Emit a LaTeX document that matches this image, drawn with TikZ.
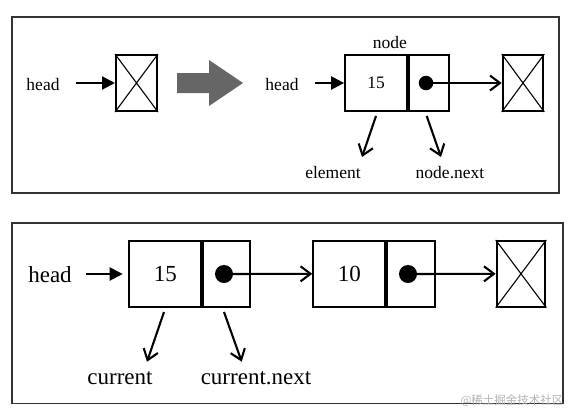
\documentclass[tikz,border=0pt]{standalone}
\usepackage{fontspec}
\setmainfont{Liberation Serif}
\newfontfamily\cjkfont{Noto Sans CJK SC}
\usetikzlibrary{arrows.meta}
\tikzset{
  frame/.style={draw=black!80, line width=1.6pt},
  cell/.style={draw, line width=2pt, rectangle, inner sep=0pt},
  nullbox/.style={draw, line width=2pt, rectangle, inner sep=0pt},
  diag/.style={line width=1.1pt},
  ptrdot/.style={fill=black, circle, inner sep=0pt},
  headarrow/.style={line width=2.2pt, -{Triangle[length=13pt,width=13pt]}},
  openarrow/.style={line width=2.1pt, -{Straight Barb[length=10pt,width=15pt,line width=2.1pt]}},
  smalltxt/.style={font=\fontsize{17.5}{19}\selectfont, inner sep=0pt},
  bigtxt/.style={font=\fontsize{23}{25}\selectfont, inner sep=0pt},
}
\begin{document}
\begin{tikzpicture}[x=1pt,y=-1pt]
\useasboundingbox (0,0) rectangle (572,413);
% ---------- top panel ----------
\draw[frame] (12,17) rectangle (559,193);
\node[smalltxt] (headA) at (43,85) {head};
\node[nullbox, minimum width=41pt, minimum height=56pt] (nullA) at (136.5,83) {};
\draw[diag] (nullA.north west) -- (nullA.south east) (nullA.north east) -- (nullA.south west);
\coordinate (hA1) at (76,83);
\draw[headarrow] (hA1) -- (nullA.west);
\fill[black!60] (177,73) -- (209,73) -- (209,60) -- (243,83) -- (209,106) -- (209,93) -- (177,93) -- cycle;
\node[smalltxt] (headB) at (282,85) {head};
\node[cell, minimum width=61.7pt, minimum height=56pt] (valB) at (376,83) {};
\node[smalltxt] at (valB.center) {15};
\node[cell, minimum width=40.6pt, minimum height=56pt, anchor=west] (ptrB) at (valB.east) {};
\node[smalltxt] (nodelbl) at (390,43) {node};
\node[ptrdot, minimum size=14.5pt] (dotB) at (426,83) {};
\node[nullbox, minimum width=40.6pt, minimum height=56pt] (nullB) at (523,83) {};
\draw[diag] (nullB.north west) -- (nullB.south east) (nullB.north east) -- (nullB.south west);
\coordinate (hB1) at (315,83);
\draw[headarrow] (hB1) -- (valB.west);
\draw[openarrow] (dotB.center) -- (nullB.west);
\node[smalltxt] (elem) at (333,173) {element};
\node[smalltxt] (nnext) at (450,173) {node.next};
\coordinate (eS) at (376,116);
\coordinate (eT) at (362,157);
\coordinate (nS) at (426.7,116);
\coordinate (nT) at (441,157);
\draw[openarrow] (eS) -- (eT);
\draw[openarrow] (nS) -- (nT);
% ---------- bottom panel ----------
\draw[frame] (12,222.7) rectangle (562.7,403.3);
\node[bigtxt] (headC) at (50,275) {head};
\node[cell, minimum width=72pt, minimum height=65.7pt] (val1) at (165.3,273.8) {};
\node[bigtxt] at (val1.center) {15};
\node[cell, minimum width=47pt, minimum height=65.7pt, anchor=west] (ptr1) at (val1.east) {};
\node[ptrdot, minimum size=18pt] (dot1) at (224,274) {};
\node[cell, minimum width=72pt, minimum height=65.7pt] (val2) at (349.3,273.8) {};
\node[bigtxt] at (val2.center) {10};
\node[cell, minimum width=47.4pt, minimum height=65.7pt, anchor=west] (ptr2) at (val2.east) {};
\node[ptrdot, minimum size=18pt] (dot2) at (408,274) {};
\node[nullbox, minimum width=48.6pt, minimum height=65.7pt] (null3) at (521,273.8) {};
\draw[diag] (null3.north west) -- (null3.south east) (null3.north east) -- (null3.south west);
\coordinate (hC1) at (86,274);
\coordinate (hC2) at (122.7,274);
\draw[headarrow] (hC1) -- (hC2);
\draw[openarrow] (dot1.center) -- (val2.west);
\draw[openarrow] (dot2.center) -- (null3.west);
\node[bigtxt] (cur) at (120,378) {current};
\node[bigtxt] (curn) at (256,378) {current.next};
\coordinate (cS) at (164,312);
\coordinate (cT) at (147,361.7);
\coordinate (dS) at (224,312);
\coordinate (dT) at (241.7,361.7);
\draw[openarrow] (cS) -- (cT);
\draw[openarrow] (dS) -- (dT);
\node[font=\cjkfont\fontsize{11.5}{12}\selectfont, text=black!30, inner sep=0pt] (wm) at (512,401) {@稀土掘金技术社区};
\end{tikzpicture}
\end{document}
